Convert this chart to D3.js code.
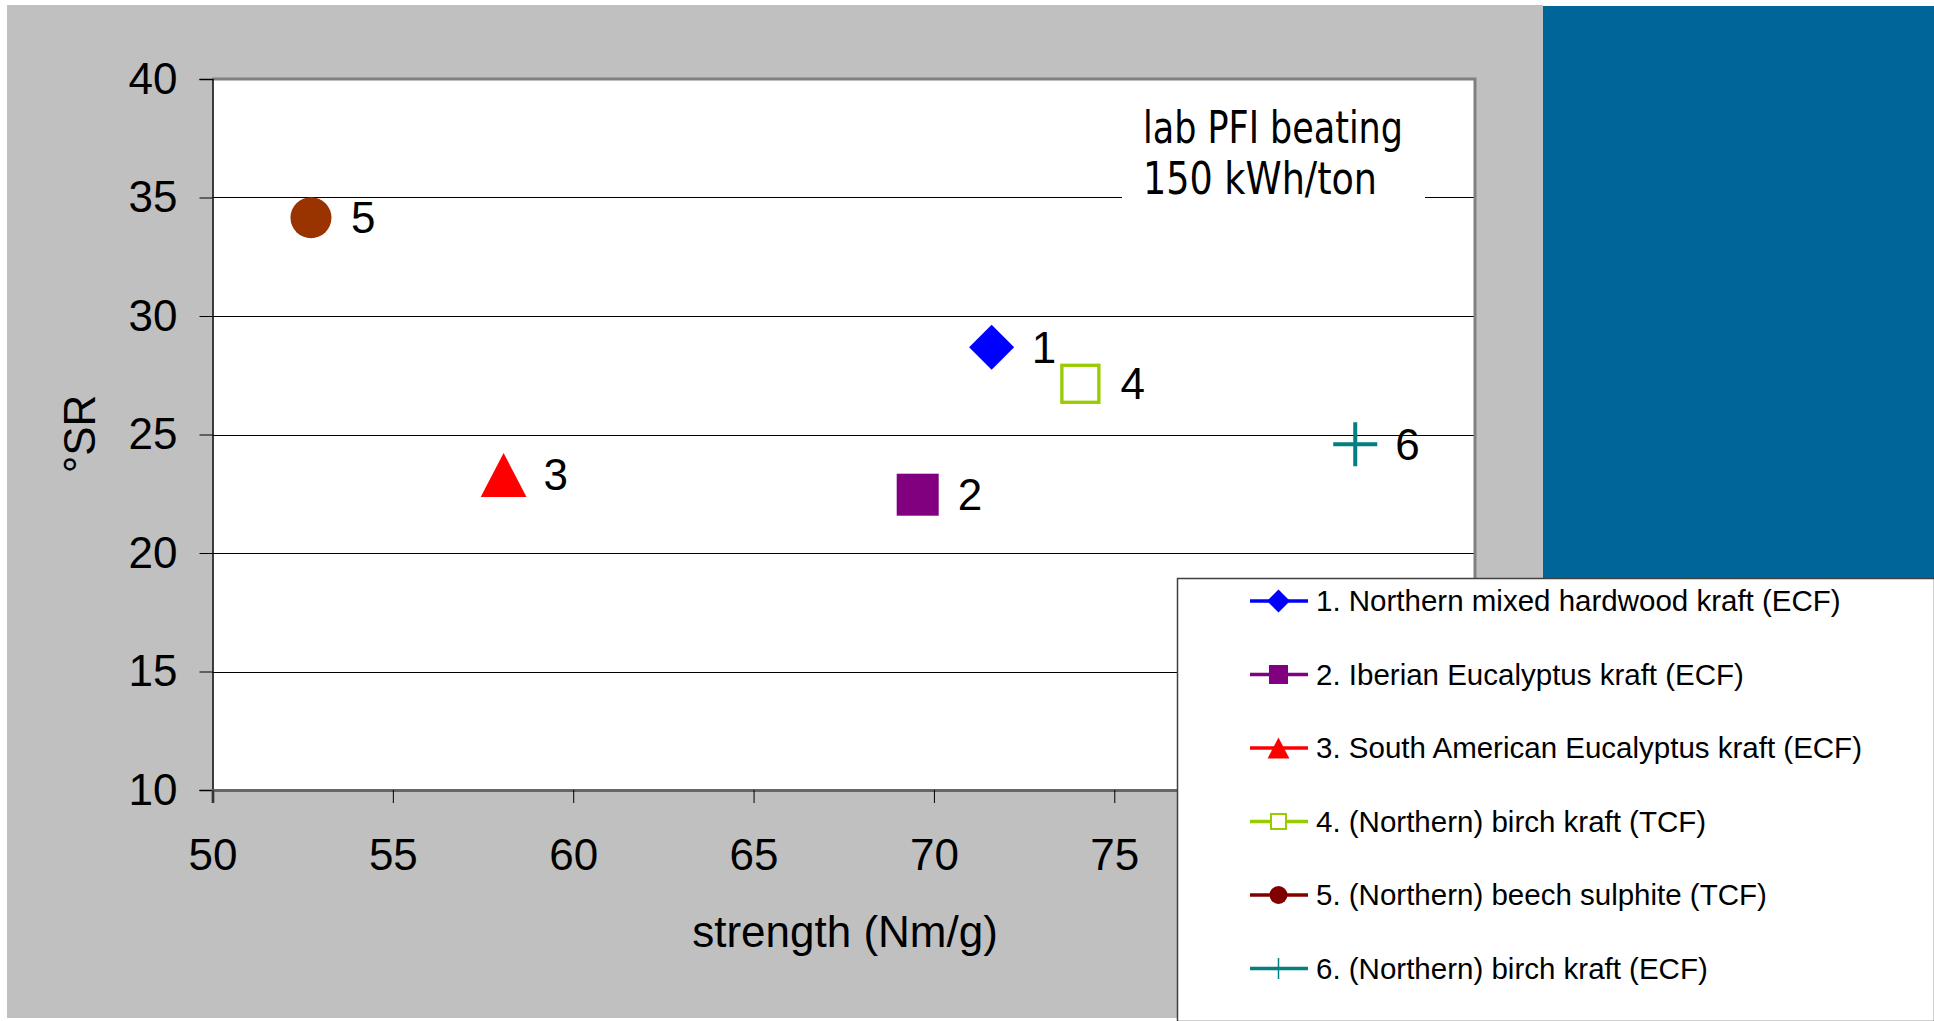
<!DOCTYPE html>
<html>
<head>
<meta charset="utf-8">
<script src="https://cdn.jsdelivr.net/npm/d3@7"></script>
<style>
  html, body { margin: 0; padding: 0; background: #fff; }
  svg { display: block; font-family: "Liberation Sans", Arial, sans-serif; }
</style>
</head>
<body>
<svg width="1934" height="1021"></svg>
<script>
// pulp data
var strength = [71.6, 69.55, 58.07, 74.06, 52.73, 81.68];
var sr = [28.68, 22.46, 23.29, 27.14, 34.15, 24.59];
var pointLabels = ["1", "2", "3", "4", "5", "6"];
var seriesNames = [
  "1. Northern mixed hardwood kraft (ECF)",
  "2. Iberian Eucalyptus kraft (ECF)",
  "3. South American Eucalyptus kraft (ECF)",
  "4. (Northern) birch kraft (TCF)",
  "5. (Northern) beech sulphite (TCF)",
  "6. (Northern) birch kraft (ECF)"
];
var shapes = ["diamond", "square", "triangle", "openSquare", "circle", "plus"];
var markerColors = ["#0000ff", "#800080", "#ff0000", "#99cc00", "#993300", "#008080"];
var legendColors = ["#0000ff", "#800080", "#ff0000", "#99cc00", "#800000", "#008080"];
// 80 and 85 sit under the legend box
var xTicks = [50, 55, 60, 65, 70, 75];
var yTicks = [10, 15, 20, 25, 30, 35, 40];
var noteLines = ["lab PFI beating", "150 kWh/ton"];

var svg = d3.select("svg"),
    width = +svg.attr("width"),
    height = +svg.attr("height");

var x = d3.scaleLinear().domain([50, 85]).range([212.5, 1475]);
var y = d3.scaleLinear().domain([10, 40]).range([790, 79]);

// backgrounds
svg.append("rect").attr("x", 7).attr("y", 5).attr("width", 1536).attr("height", 1013).attr("fill", "#c0c0c0");
svg.append("rect").attr("x", 1543).attr("y", 6).attr("width", width - 1543).attr("height", 572).attr("fill", "#006699");

// plot area
svg.append("rect")
    .attr("x", x(50)).attr("y", y(40))
    .attr("width", x(85) - x(50)).attr("height", y(10) - y(40))
    .attr("fill", "#fff");

// gridlines
svg.append("g").selectAll("line")
    .data(yTicks.filter(function(d){ return d > 10 && d < 40; }))
    .enter().append("line")
    .attr("x1", x(50)).attr("x2", x(85))
    .attr("y1", function(d){ return Math.round(y(d)) + 0.5; })
    .attr("y2", function(d){ return Math.round(y(d)) + 0.5; })
    .attr("stroke", "#000").attr("stroke-width", 1);

// frame (top & right grey)
svg.append("path")
    .attr("d", "M" + x(50) + "," + y(40) + "H" + x(85) + "V" + y(10))
    .attr("fill", "none").attr("stroke", "#808080").attr("stroke-width", 3);

// note box (hides gridline behind text)
var note = svg.append("g");
note.append("rect")
    .attr("x", 1122).attr("y", 96).attr("width", 303).attr("height", 112)
    .attr("fill", "#fff");
note.selectAll("text")
    .data(noteLines)
    .enter().append("text")
    .attr("x", 1143)
    .attr("y", function(d, i){ return 143 + i * 51; })
    .attr("textLength", function(d, i){ return i === 0 ? 260 : 234; })
    .attr("lengthAdjust", "spacingAndGlyphs")
    .style("font-family", '"Liberation Sans Narrow", "DejaVu Sans Condensed", sans-serif')
    .style("font-size", "44px")
    .attr("fill", "#000")
    .text(function(d){ return d; });

// axes
var yAxis = svg.append("g")
    .attr("transform", "translate(" + x(50) + ",0)")
    .call(d3.axisLeft(y).tickValues(yTicks).tickSize(13).tickPadding(22));
yAxis.select(".domain").attr("stroke", "#000").attr("stroke-width", 1.5);
yAxis.selectAll(".tick line").attr("stroke", "#000");
yAxis.selectAll("text")
    .attr("dy", "14px")
    .style("font-size", "44px")
    .style("font-family", '"Liberation Sans", Arial, sans-serif')
    .attr("fill", "#000");

var xAxis = svg.append("g")
    .attr("transform", "translate(0," + y(10) + ")")
    .call(d3.axisBottom(x).tickValues(xTicks).tickSize(13));
xAxis.select(".domain").attr("stroke", "#666").attr("stroke-width", 3);
xAxis.selectAll(".tick line").attr("stroke", "#000");
xAxis.selectAll("text")
    .attr("y", 80).attr("dy", 0)
    .style("font-size", "44px")
    .style("font-family", '"Liberation Sans", Arial, sans-serif')
    .attr("fill", "#000");

// axis titles
svg.append("text")
    .attr("x", 845).attr("y", 947)
    .attr("text-anchor", "middle")
    .style("font-size", "44px")
    .text("strength (Nm/g)");
svg.append("text")
    .attr("transform", "translate(95,434) rotate(-90)")
    .attr("text-anchor", "middle")
    .style("font-size", "44px")
    .text("°SR");

// marker shapes, s = full size
function drawMarker(g, shape, s, color, strokeW) {
  var h = s / 2;
  if (shape === "diamond") {
    g.append("path").attr("d", "M0," + (-h) + "L" + h + ",0L0," + h + "L" + (-h) + ",0Z").attr("fill", color);
  } else if (shape === "square") {
    g.append("rect").attr("x", -h).attr("y", -h).attr("width", s).attr("height", s).attr("fill", color);
  } else if (shape === "triangle") {
    g.append("path").attr("d", "M0," + (-h) + "L" + (h * 1.04) + "," + h + "L" + (-h * 1.04) + "," + h + "Z").attr("fill", color);
  } else if (shape === "openSquare") {
    g.append("rect").attr("x", -h).attr("y", -h).attr("width", s).attr("height", s)
      .attr("fill", "#fff").attr("stroke", color).attr("stroke-width", strokeW);
  } else if (shape === "circle") {
    g.append("circle").attr("r", h).attr("fill", color);
  } else if (shape === "plus") {
    g.append("path").attr("d", "M" + (-h) + ",0H" + h + "M0," + (-h) + "V" + h)
      .attr("stroke", color).attr("stroke-width", strokeW).attr("fill", "none");
  }
}

// points
var pts = svg.append("g").selectAll("g")
    .data(strength)
    .enter().append("g")
    .attr("transform", function(d, i){ return "translate(" + x(d) + "," + y(sr[i]) + ")"; });

pts.each(function(d, i) {
  var g = d3.select(this);
  var size = [45, 42, 44, 37, 41, 44][i];
  drawMarker(g, shapes[i], size, markerColors[i], i === 3 ? 3.3 : 4);
  g.append("text")
    .attr("x", 40).attr("dy", "0.35em")
    .style("font-size", "44px")
    .attr("fill", "#000")
    .text(pointLabels[i]);
});

// legend
var legend = svg.append("g");
legend.append("rect")
    .attr("x", 1177.5).attr("y", 578.5)
    .attr("width", width - 1177).attr("height", height - 578)
    .attr("fill", "#fff").attr("stroke", "#404040").attr("stroke-width", 1.5);

var items = legend.selectAll("g.item")
    .data(seriesNames)
    .enter().append("g")
    .attr("class", "item")
    .attr("transform", function(d, i){ return "translate(0," + (601 + i * 73.5) + ")"; });

items.append("line")
    .attr("x1", 1250).attr("x2", 1308)
    .attr("stroke", function(d, i){ return legendColors[i]; })
    .attr("stroke-width", 3.5);

items.each(function(d, i) {
  var g = d3.select(this).append("g").attr("transform", "translate(1278.5,0)");
  var size = [23, 19, 21, 15, 18, 21][i];
  drawMarker(g, shapes[i], size, legendColors[i], i === 3 ? 2 : 1.5);
});

items.append("text")
    .attr("x", 1316).attr("y", 10)
    .style("font-size", "29.5px")
    .attr("fill", "#000")
    .text(function(d){ return d; });
</script>
</body>
</html>
